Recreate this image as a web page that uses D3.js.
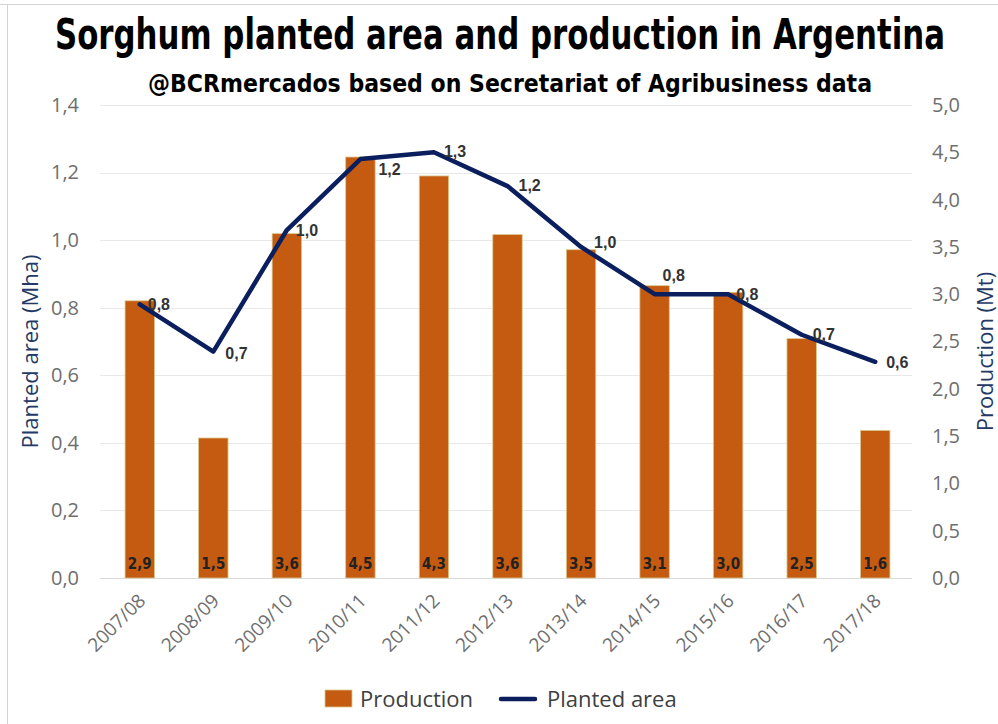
<!DOCTYPE html>
<html>
<head>
<meta charset="utf-8">
<script src="https://cdn.jsdelivr.net/npm/d3@7"></script>
<style>
	body { margin: 0; background: #fff; }
	svg { display: block; }
</style>
</head>
<body>
<div id="chart"></div>
<script>
	// data
	const seasons = ['2007/08', '2008/09', '2009/10', '2010/11', '2011/12', '2012/13',
		'2013/14', '2014/15', '2015/16', '2016/17', '2017/18'];
	const production = [2.93, 1.48, 3.64, 4.45, 4.25, 3.63, 3.47, 3.09, 3.02, 2.53, 1.56]; // Mt
	const plantedArea = [0.81, 0.67, 1.03, 1.24, 1.26, 1.16, 0.98, 0.84, 0.84, 0.72, 0.64]; // Mha
	const leftTicks = [0, 0.2, 0.4, 0.6, 0.8, 1.0, 1.2, 1.4];
	const rightTicks = [0, 0.5, 1, 1.5, 2, 2.5, 3, 3.5, 4, 4.5, 5];

	// label nudges for the line labels [dx, dy]
	const areaLabelShift = [[8, 6], [12, 7], [9, 6], [18, 16], [10, 5], [11, 5],
		[13, 1], [8, -13], [8, 6], [11, 5], [11, 6]];

	const barColor = '#c55a11';
	const lineColor = '#0b1f5e';
	const fmt = (v) => d3.format('.1f')(v).replace('.', ',');

	const width = 998, height = 724;
	const plot = { left: 103, right: 912, top: 105, bottom: 578 };

	const svg = d3
		.select('#chart')
		.append('svg')
		.attr('width', width)
		.attr('height', height);

	// screenshot frame
	svg.append('line')
		.attr('x1', 0).attr('x2', width).attr('y1', 4.5).attr('y2', 4.5)
		.attr('stroke', '#d4d4d4');
	svg.append('line')
		.attr('x1', 7.5).attr('x2', 7.5).attr('y1', 4.5).attr('y2', height)
		.attr('stroke', '#d4d4d4');

	// titles
	svg.append('text')
		.attr('x', 500).attr('y', 49)
		.attr('text-anchor', 'middle')
		.attr('font-family', '"Liberation Sans Narrow", "DejaVu Sans Condensed", sans-serif')
		.attr('font-weight', 'bold')
		.attr('font-size', 42)
		.attr('textLength', 890)
		.attr('lengthAdjust', 'spacingAndGlyphs')
		.attr('fill', '#000')
		.text('Sorghum planted area and production in Argentina');

	svg.append('text')
		.attr('x', 510).attr('y', 92)
		.attr('text-anchor', 'middle')
		.attr('font-family', '"Liberation Sans Narrow", "DejaVu Sans Condensed", sans-serif')
		.attr('font-weight', 'bold')
		.attr('font-size', 25)
		.attr('textLength', 724)
		.attr('lengthAdjust', 'spacingAndGlyphs')
		.attr('fill', '#000')
		.text('@BCRmercados based on Secretariat of Agribusiness data');

	// scales
	const x = d3.scaleBand()
		.domain(seasons)
		.range([plot.left, plot.right])
		.paddingInner(0.6)
		.paddingOuter(0.3);

	const yLeft = d3.scaleLinear().domain([0, 1.4]).range([plot.bottom, plot.top]);
	const yRight = d3.scaleLinear().domain([0, 5]).range([plot.bottom, plot.top]);

	// gridlines
	svg.append('g')
		.selectAll('line')
		.data(leftTicks)
		.enter()
		.append('line')
		.attr('x1', plot.left - 3)
		.attr('x2', plot.right)
		.attr('y1', (d) => Math.round(yLeft(d)) + 0.5)
		.attr('y2', (d) => Math.round(yLeft(d)) + 0.5)
		.attr('stroke', (d) => (d === 0 ? '#d9d9d9' : '#e8e8e8'))
		.attr('stroke-width', 1.2);

	// axes
	const tickFont = '"Open Sans", "Noto Sans", sans-serif';
	const leftAxis = svg.append('g')
		.attr('transform', `translate(${plot.left - 3},0)`)
		.call(d3.axisLeft(yLeft).tickValues(leftTicks).tickFormat(fmt).tickSize(0).tickPadding(21));
	const rightAxis = svg.append('g')
		.attr('transform', `translate(${plot.right},0)`)
		.call(d3.axisRight(yRight).tickValues(rightTicks).tickFormat(fmt).tickSize(0).tickPadding(20));
	const bottomAxis = svg.append('g')
		.attr('transform', `translate(0,${plot.bottom})`)
		.call(d3.axisBottom(x).tickSize(0).tickPadding(0));

	[leftAxis, rightAxis].forEach((g) => {
		g.select('.domain').remove();
		g.selectAll('text')
			.attr('font-family', tickFont)
			.attr('font-size', 20)
			.attr('fill', '#6e6e6e');
	});

	bottomAxis.select('.domain').remove();
	bottomAxis.selectAll('text')
		.attr('font-family', tickFont)
		.attr('font-size', 19)
		.attr('fill', '#6e6e6e')
		.attr('text-anchor', 'end')
		.attr('dy', null)
		.attr('transform', 'translate(7,24) rotate(-45)');

	// axis titles
	svg.append('text')
		.attr('transform', `translate(38,${(plot.top + plot.bottom) / 2 + 10}) rotate(-90)`)
		.attr('text-anchor', 'middle')
		.attr('font-family', tickFont)
		.attr('font-size', 22)
		.attr('fill', '#243a66')
		.text('Planted area (Mha)');

	svg.append('text')
		.attr('transform', `translate(993,${(plot.top + plot.bottom) / 2 + 10}) rotate(-90)`)
		.attr('text-anchor', 'middle')
		.attr('font-family', tickFont)
		.attr('font-size', 22)
		.attr('fill', '#243a66')
		.text('Production (Mt)');

	// bars
	svg.append('g')
		.selectAll('rect')
		.data(production)
		.enter()
		.append('rect')
		.attr('x', (d, i) => x(seasons[i]))
		.attr('width', x.bandwidth())
		.attr('y', (d) => yRight(d))
		.attr('height', (d) => yRight(0) - yRight(d))
		.attr('fill', barColor)
		.attr('stroke', '#d8c98a')
		.attr('stroke-width', 0.8);

	// bar labels at the base
	svg.append('g')
		.selectAll('text')
		.data(production)
		.enter()
		.append('text')
		.attr('x', (d, i) => x(seasons[i]) + x.bandwidth() / 2)
		.attr('y', yRight(0) - 9)
		.attr('text-anchor', 'middle')
		.attr('font-family', '"Liberation Sans Narrow", "DejaVu Sans Condensed", sans-serif')
		.attr('font-weight', 'bold')
		.attr('font-size', 15)
		.attr('fill', '#222')
		.text((d) => fmt(d));

	// planted area line
	const cx = (i) => x(seasons[i]) + x.bandwidth() / 2;
	svg.append('path')
		.datum(plantedArea)
		.attr('fill', 'none')
		.attr('stroke', lineColor)
		.attr('stroke-width', 4.5)
		.attr('stroke-linejoin', 'round')
		.attr('stroke-linecap', 'round')
		.attr('d', d3.line()
			.x((d, i) => cx(i))
			.y((d) => yLeft(d)));

	// line labels
	svg.append('g')
		.selectAll('text')
		.data(plantedArea)
		.enter()
		.append('text')
		.attr('x', (d, i) => cx(i) + areaLabelShift[i][0])
		.attr('y', (d, i) => yLeft(d) + areaLabelShift[i][1])
		.attr('font-family', '"Liberation Sans", Arial, sans-serif')
		.attr('font-weight', 'bold')
		.attr('font-size', 16)
		.attr('fill', '#333')
		.text((d) => fmt(d));

	// legend
	const legend = svg.append('g').attr('transform', 'translate(325,699)');
	legend.append('rect')
		.attr('x', 0).attr('y', -9)
		.attr('width', 27).attr('height', 17)
		.attr('fill', barColor)
		.attr('stroke', '#d8c98a')
		.attr('stroke-width', 0.8);
	legend.append('text')
		.attr('x', 35).attr('y', 8)
		.attr('font-family', tickFont)
		.attr('font-size', 22)
		.attr('fill', '#404040')
		.text('Production');
	legend.append('line')
		.attr('x1', 176).attr('x2', 210).attr('y1', 0).attr('y2', 0)
		.attr('stroke', lineColor)
		.attr('stroke-width', 4.5)
		.attr('stroke-linecap', 'round');
	legend.append('text')
		.attr('x', 222).attr('y', 8)
		.attr('font-family', tickFont)
		.attr('font-size', 22)
		.attr('fill', '#404040')
		.text('Planted area');
</script>
</body>
</html>
